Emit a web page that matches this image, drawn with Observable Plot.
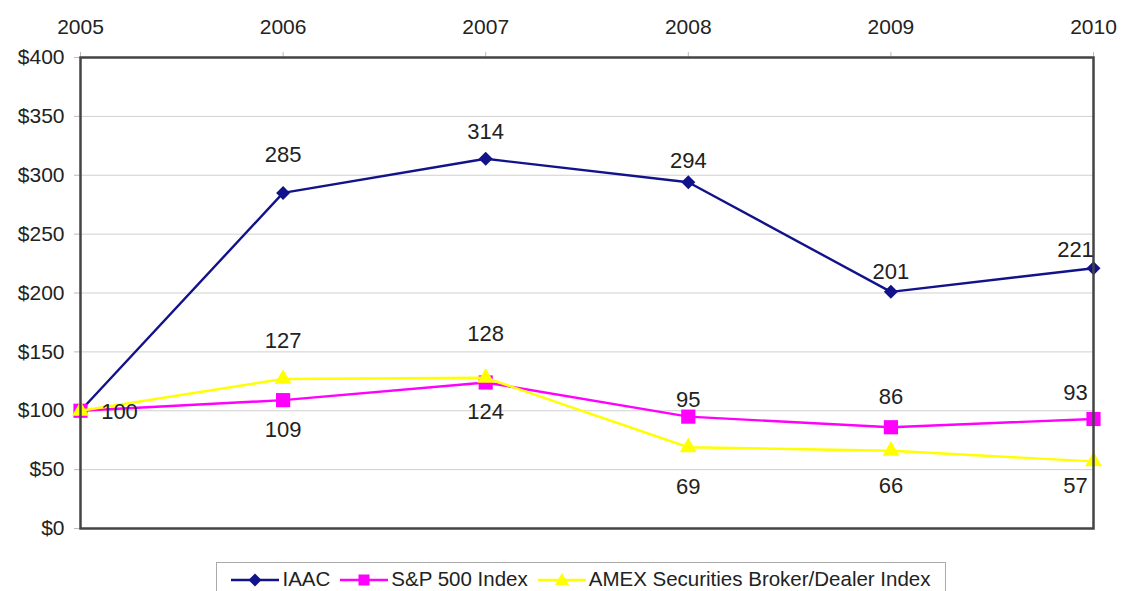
<!DOCTYPE html>
<html>
<head>
<meta charset="utf-8">
<script src="https://cdn.jsdelivr.net/npm/d3@7"></script>
<script src="https://cdn.jsdelivr.net/npm/@observablehq/plot@0.6"></script>
<style>
  body { margin: 0; background: #fff; font-family: "Liberation Sans", Arial, sans-serif; }
  #chart { width: 1123px; }
  .legend { position: absolute; left: 216px; top: 562px; width: 730px; height: 36px; border: 1px solid #aaa; box-sizing: border-box;
            display: flex; align-items: flex-start; padding-top: 1px; justify-content: center; gap: 10px; font-size: 20.5px; color: #222; }
  .legend .item { display: flex; align-items: center; gap: 3px; }
</style>
</head>
<body>
<div id="chart"></div>
<script>
const years = [2005, 2006, 2007, 2008, 2009, 2010];
const iaac = [100, 285, 314, 294, 201, 221];
const sp500 = [100, 109, 124, 95, 86, 93];
const amex = [100, 127, 128, 69, 66, 57];
const seriesNames = ["IAAC", "S&P 500 Index", "AMEX Securities Broker/Dealer Index"];
const seriesValues = [iaac, sp500, amex];
const yTicks = [0, 50, 100, 150, 200, 250, 300, 350, 400];

const colors = ["#12128a", "#ff00ff", "#ffff00"];
const symbols = ["diamond2", "square", "triangle"];
const radii = [6.3, 8, 6.3];

const data = [];
seriesNames.forEach((name, s) => years.forEach((yr, i) => data.push({series: name, s, i, year: yr, value: seriesValues[s][i]})));

// label placement (style only): offsets per series/point
function labelOffset(d) {
  const last = d.i === years.length - 1;
  const dx = last ? -18 : 0;
  if (d.s === 0) {
    const dys = [0, -38, -27, -21, -20, -18];
    return {dx, dy: dys[d.i]};
  }
  if (d.s === 1) {
    if (d.i === 0) return {dx: 39, dy: 1};
    const dys = [0, 30, 29, -17, -30, -26];
    return {dx, dy: dys[d.i]};
  }
  const dys = [0, -38, -44, 40, 35, 25];
  return {dx, dy: dys[d.i]};
}
const labelData = data.filter(d => !(d.i === 0 && d.s !== 1)).map(d => ({...d, ...labelOffset(d)}));

const marks = [
  Plot.gridY(yTicks, {stroke: "#d0d0d0", strokeOpacity: 1, strokeWidth: 1}),
  Plot.axisY(yTicks, {tickFormat: d => "$" + d, tickSize: 6, tickPadding: 10, stroke: "#bbb", fill: "#222", label: null}),
  Plot.axisX(years, {anchor: "top", tickFormat: "d", tickSize: 6, tickPadding: 18, stroke: "#bbb", fill: "#222", label: null}),
];
seriesNames.forEach((name, s) => {
  const sub = data.filter(d => d.s === s);
  marks.push(Plot.line(sub, {x: "year", y: "value", stroke: colors[s], strokeWidth: 2.4}));
  marks.push(Plot.dot(sub, {x: "year", y: "value", symbol: symbols[s], fill: colors[s], r: radii[s], stroke: "none"}));
});
marks.push(Plot.frame({stroke: "#444", strokeWidth: 2.5}));
labelData.forEach(d => {
  marks.push(Plot.text([d], {x: "year", y: "value", text: d => String(d.value), dx: d.dx, dy: d.dy, fontSize: 22, fill: "#222"}));
});

const chart = Plot.plot({
  width: 1123,
  height: 548,
  marginLeft: 80,
  marginRight: 30,
  marginTop: 57,
  marginBottom: 20,
  style: {fontFamily: "Liberation Sans, Arial, sans-serif", fontSize: "21px", background: "#fff"},
  x: {type: "linear", domain: [2005, 2010], range: [80, 1093]},
  y: {domain: [0, 400], range: [528, 57]},
  marks
});
document.getElementById("chart").appendChild(chart);

// legend
const legend = document.createElement("div");
legend.className = "legend";
const symPath = {
  diamond2: "M24,9.5 L30.5,16 L24,22.5 L17.5,16 Z",
  square: "M18.5,10.5 H29.5 V21.5 H18.5 Z",
  triangle: "M24,9 L31,21 L17,21 Z"
};
seriesNames.forEach((name, s) => {
  const item = document.createElement("div");
  item.className = "item";
  item.innerHTML = `<svg width="48" height="30"><line x1="0" x2="48" y1="16" y2="16" stroke="${colors[s]}" stroke-width="2.4"/><path d="${symPath[symbols[s]]}" fill="${colors[s]}"/></svg><span>${name.replace("&", "&amp;")}</span>`;
  legend.appendChild(item);
});
document.body.appendChild(legend);
</script>
</body>
</html>
